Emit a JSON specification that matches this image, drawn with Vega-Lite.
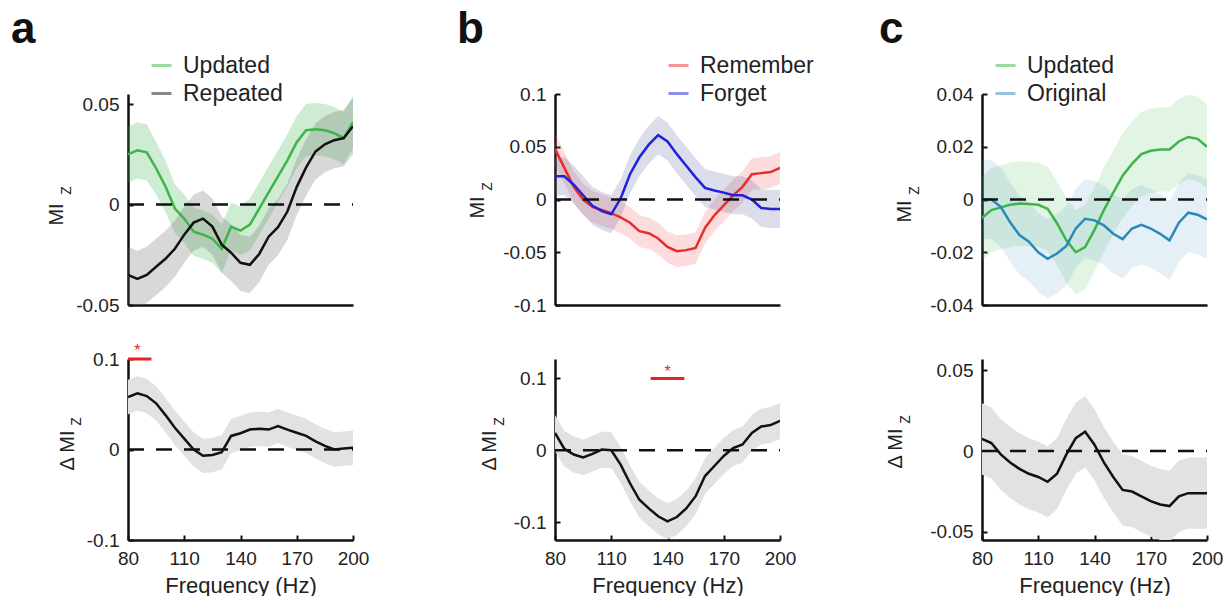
{
"$schema": "https://vega.github.io/schema/vega-lite/v6.json",
"background": "white",
"padding": {"left": 11, "top": 8, "right": 0, "bottom": 0},
"config": {
  "font": "Liberation Sans",
  "view": {"stroke": null},
  "axis": {"labelFont": "Liberation Sans", "titleFont": "Liberation Sans", "labelFontSize": 19, "titleFontSize": 20, "titleFontWeight": "normal", "labelColor": "#222", "titleColor": "#222", "domainColor": "#111", "domainWidth": 2.5, "tickColor": "#111", "tickWidth": 2, "tickSize": -5, "labelPadding": 14, "grid": false, "labelFlush": false, "labelOverlap": false},
  "axisX": {"titleFontSize": 22, "titlePadding": 7},
  "legend": {"padding": 0, "labelFont": "Liberation Sans", "labelFontSize": 23, "labelColor": "#222", "symbolType": "stroke", "symbolStrokeWidth": 3, "symbolSize": 400, "symbolOpacity": 0.5, "rowPadding": 4, "labelOffset": 10},
  "title": {"font": "Liberation Sans", "fontSize": 44, "fontWeight": "bold", "color": "#111", "anchor": "start", "frame": "group", "baseline": "alphabetic", "offset": 2}
},
"datasets": {
  "aTop": [
    {"f":80,"cond":"Updated","v":0.025,"lo":0.011,"hi":0.039},{"f":85,"cond":"Updated","v":0.027,"lo":0.013,"hi":0.041},{"f":90,"cond":"Updated","v":0.026,"lo":0.012,"hi":0.040},{"f":95,"cond":"Updated","v":0.018,"lo":0.005,"hi":0.031},{"f":100,"cond":"Updated","v":0.009,"lo":-0.004,"hi":0.022},{"f":105,"cond":"Updated","v":-0.002,"lo":-0.014,"hi":0.010},{"f":110,"cond":"Updated","v":-0.007,"lo":-0.019,"hi":0.005},{"f":115,"cond":"Updated","v":-0.0135,"lo":-0.0255,"hi":-0.0015},{"f":120,"cond":"Updated","v":-0.015,"lo":-0.027,"hi":-0.003},{"f":125,"cond":"Updated","v":-0.017,"lo":-0.029,"hi":-0.005},{"f":130,"cond":"Updated","v":-0.022,"lo":-0.034,"hi":-0.010},{"f":135,"cond":"Updated","v":-0.011,"lo":-0.023,"hi":0.001},{"f":140,"cond":"Updated","v":-0.013,"lo":-0.025,"hi":-0.001},{"f":145,"cond":"Updated","v":-0.010,"lo":-0.023,"hi":0.003},{"f":150,"cond":"Updated","v":-0.002,"lo":-0.015,"hi":0.011},{"f":155,"cond":"Updated","v":0.006,"lo":-0.007,"hi":0.019},{"f":160,"cond":"Updated","v":0.014,"lo":0.001,"hi":0.027},{"f":165,"cond":"Updated","v":0.022,"lo":0.009,"hi":0.035},{"f":170,"cond":"Updated","v":0.031,"lo":0.018,"hi":0.044},{"f":175,"cond":"Updated","v":0.037,"lo":0.024,"hi":0.050},{"f":180,"cond":"Updated","v":0.0375,"lo":0.0245,"hi":0.0505},{"f":185,"cond":"Updated","v":0.037,"lo":0.024,"hi":0.050},{"f":190,"cond":"Updated","v":0.0355,"lo":0.0225,"hi":0.0485},{"f":195,"cond":"Updated","v":0.033,"lo":0.020,"hi":0.046},{"f":200,"cond":"Updated","v":0.041,"lo":0.028,"hi":0.054},
    {"f":80,"cond":"Repeated","v":-0.035,"lo":-0.049,"hi":-0.021},{"f":85,"cond":"Repeated","v":-0.037,"lo":-0.051,"hi":-0.023},{"f":90,"cond":"Repeated","v":-0.035,"lo":-0.049,"hi":-0.021},{"f":95,"cond":"Repeated","v":-0.031,"lo":-0.045,"hi":-0.017},{"f":100,"cond":"Repeated","v":-0.027,"lo":-0.041,"hi":-0.013},{"f":105,"cond":"Repeated","v":-0.022,"lo":-0.036,"hi":-0.008},{"f":110,"cond":"Repeated","v":-0.015,"lo":-0.029,"hi":-0.001},{"f":115,"cond":"Repeated","v":-0.009,"lo":-0.023,"hi":0.005},{"f":120,"cond":"Repeated","v":-0.007,"lo":-0.021,"hi":0.007},{"f":125,"cond":"Repeated","v":-0.011,"lo":-0.025,"hi":0.003},{"f":130,"cond":"Repeated","v":-0.020,"lo":-0.034,"hi":-0.006},{"f":135,"cond":"Repeated","v":-0.024,"lo":-0.038,"hi":-0.010},{"f":140,"cond":"Repeated","v":-0.029,"lo":-0.043,"hi":-0.015},{"f":145,"cond":"Repeated","v":-0.030,"lo":-0.044,"hi":-0.016},{"f":150,"cond":"Repeated","v":-0.0246,"lo":-0.0386,"hi":-0.0106},{"f":155,"cond":"Repeated","v":-0.016,"lo":-0.030,"hi":-0.002},{"f":160,"cond":"Repeated","v":-0.0113,"lo":-0.0253,"hi":0.0027},{"f":165,"cond":"Repeated","v":-0.0035,"lo":-0.0175,"hi":0.0105},{"f":170,"cond":"Repeated","v":0.0088,"lo":-0.0052,"hi":0.0228},{"f":175,"cond":"Repeated","v":0.0185,"lo":0.0045,"hi":0.0325},{"f":180,"cond":"Repeated","v":0.0264,"lo":0.0124,"hi":0.0404},{"f":185,"cond":"Repeated","v":0.030,"lo":0.016,"hi":0.044},{"f":190,"cond":"Repeated","v":0.032,"lo":0.018,"hi":0.046},{"f":195,"cond":"Repeated","v":0.033,"lo":0.019,"hi":0.047},{"f":200,"cond":"Repeated","v":0.039,"lo":0.025,"hi":0.053}
  ],
  "aBot": [
    {"f":80,"v":0.058,"lo":0.039,"hi":0.077},{"f":85,"v":0.062,"lo":0.043,"hi":0.081},{"f":90,"v":0.059,"lo":0.040,"hi":0.078},{"f":95,"v":0.051,"lo":0.032,"hi":0.070},{"f":100,"v":0.038,"lo":0.019,"hi":0.057},{"f":105,"v":0.024,"lo":0.005,"hi":0.043},{"f":110,"v":0.012,"lo":-0.007,"hi":0.031},{"f":115,"v":0.000,"lo":-0.019,"hi":0.019},{"f":120,"v":-0.007,"lo":-0.026,"hi":0.012},{"f":125,"v":-0.006,"lo":-0.025,"hi":0.013},{"f":130,"v":-0.003,"lo":-0.022,"hi":0.016},{"f":135,"v":0.015,"lo":-0.004,"hi":0.034},{"f":140,"v":0.018,"lo":-0.001,"hi":0.037},{"f":145,"v":0.022,"lo":0.003,"hi":0.041},{"f":150,"v":0.023,"lo":0.004,"hi":0.042},{"f":155,"v":0.022,"lo":0.003,"hi":0.041},{"f":160,"v":0.026,"lo":0.007,"hi":0.045},{"f":165,"v":0.022,"lo":0.003,"hi":0.041},{"f":170,"v":0.0185,"lo":-0.0005,"hi":0.0375},{"f":175,"v":0.015,"lo":-0.004,"hi":0.034},{"f":180,"v":0.009,"lo":-0.010,"hi":0.028},{"f":185,"v":0.004,"lo":-0.015,"hi":0.023},{"f":190,"v":0.000,"lo":-0.019,"hi":0.019},{"f":195,"v":0.001,"lo":-0.018,"hi":0.020},{"f":200,"v":0.002,"lo":-0.017,"hi":0.021}
  ],
  "aSig": [{"f1":80,"f2":92.5,"y":0.1,"fs":85}],
  "bTop": [
    {"f":80,"cond":"Remember","v":0.048,"lo":0.033,"hi":0.063},{"f":85,"cond":"Remember","v":0.030,"lo":0.015,"hi":0.045},{"f":90,"cond":"Remember","v":0.012,"lo":-0.003,"hi":0.027},{"f":95,"cond":"Remember","v":0.000,"lo":-0.015,"hi":0.015},{"f":100,"cond":"Remember","v":-0.007,"lo":-0.022,"hi":0.008},{"f":105,"cond":"Remember","v":-0.010,"lo":-0.025,"hi":0.005},{"f":110,"cond":"Remember","v":-0.013,"lo":-0.028,"hi":0.002},{"f":115,"cond":"Remember","v":-0.017,"lo":-0.032,"hi":-0.002},{"f":120,"cond":"Remember","v":-0.022,"lo":-0.037,"hi":-0.007},{"f":125,"cond":"Remember","v":-0.030,"lo":-0.045,"hi":-0.015},{"f":130,"cond":"Remember","v":-0.032,"lo":-0.047,"hi":-0.017},{"f":135,"cond":"Remember","v":-0.037,"lo":-0.052,"hi":-0.022},{"f":140,"cond":"Remember","v":-0.045,"lo":-0.060,"hi":-0.030},{"f":145,"cond":"Remember","v":-0.049,"lo":-0.064,"hi":-0.034},{"f":150,"cond":"Remember","v":-0.048,"lo":-0.063,"hi":-0.033},{"f":155,"cond":"Remember","v":-0.046,"lo":-0.061,"hi":-0.031},{"f":160,"cond":"Remember","v":-0.027,"lo":-0.042,"hi":-0.012},{"f":165,"cond":"Remember","v":-0.015,"lo":-0.030,"hi":0.000},{"f":170,"cond":"Remember","v":-0.0055,"lo":-0.0205,"hi":0.0095},{"f":175,"cond":"Remember","v":0.004,"lo":-0.011,"hi":0.019},{"f":180,"cond":"Remember","v":0.012,"lo":-0.003,"hi":0.027},{"f":185,"cond":"Remember","v":0.024,"lo":0.009,"hi":0.039},{"f":190,"cond":"Remember","v":0.025,"lo":0.010,"hi":0.040},{"f":195,"cond":"Remember","v":0.026,"lo":0.011,"hi":0.041},{"f":200,"cond":"Remember","v":0.030,"lo":0.015,"hi":0.045},
    {"f":80,"cond":"Forget","v":0.022,"lo":0.004,"hi":0.040},{"f":85,"cond":"Forget","v":0.022,"lo":0.004,"hi":0.040},{"f":90,"cond":"Forget","v":0.014,"lo":-0.004,"hi":0.032},{"f":95,"cond":"Forget","v":0.004,"lo":-0.014,"hi":0.022},{"f":100,"cond":"Forget","v":-0.006,"lo":-0.024,"hi":0.012},{"f":105,"cond":"Forget","v":-0.011,"lo":-0.029,"hi":0.007},{"f":110,"cond":"Forget","v":-0.014,"lo":-0.032,"hi":0.004},{"f":115,"cond":"Forget","v":0.001,"lo":-0.017,"hi":0.019},{"f":120,"cond":"Forget","v":0.024,"lo":0.006,"hi":0.042},{"f":125,"cond":"Forget","v":0.040,"lo":0.022,"hi":0.058},{"f":130,"cond":"Forget","v":0.052,"lo":0.034,"hi":0.070},{"f":135,"cond":"Forget","v":0.061,"lo":0.043,"hi":0.079},{"f":140,"cond":"Forget","v":0.055,"lo":0.037,"hi":0.073},{"f":145,"cond":"Forget","v":0.043,"lo":0.025,"hi":0.061},{"f":150,"cond":"Forget","v":0.032,"lo":0.014,"hi":0.050},{"f":155,"cond":"Forget","v":0.021,"lo":0.003,"hi":0.039},{"f":160,"cond":"Forget","v":0.011,"lo":-0.007,"hi":0.029},{"f":165,"cond":"Forget","v":0.0085,"lo":-0.0095,"hi":0.0265},{"f":170,"cond":"Forget","v":0.0065,"lo":-0.0115,"hi":0.0245},{"f":175,"cond":"Forget","v":0.004,"lo":-0.014,"hi":0.022},{"f":180,"cond":"Forget","v":0.004,"lo":-0.014,"hi":0.022},{"f":185,"cond":"Forget","v":0.000,"lo":-0.018,"hi":0.018},{"f":190,"cond":"Forget","v":-0.008,"lo":-0.026,"hi":0.010},{"f":195,"cond":"Forget","v":-0.009,"lo":-0.027,"hi":0.009},{"f":200,"cond":"Forget","v":-0.009,"lo":-0.027,"hi":0.009}
  ],
  "bBot": [
    {"f":80,"v":0.024,"lo":-0.001,"hi":0.049},{"f":85,"v":0.002,"lo":-0.023,"hi":0.027},{"f":90,"v":-0.006,"lo":-0.031,"hi":0.019},{"f":95,"v":-0.010,"lo":-0.035,"hi":0.015},{"f":100,"v":-0.005,"lo":-0.030,"hi":0.020},{"f":105,"v":0.001,"lo":-0.024,"hi":0.026},{"f":110,"v":0.000,"lo":-0.025,"hi":0.025},{"f":115,"v":-0.020,"lo":-0.045,"hi":0.005},{"f":120,"v":-0.046,"lo":-0.071,"hi":-0.021},{"f":125,"v":-0.069,"lo":-0.094,"hi":-0.044},{"f":130,"v":-0.081,"lo":-0.106,"hi":-0.056},{"f":135,"v":-0.092,"lo":-0.117,"hi":-0.067},{"f":140,"v":-0.099,"lo":-0.124,"hi":-0.074},{"f":145,"v":-0.093,"lo":-0.118,"hi":-0.068},{"f":150,"v":-0.081,"lo":-0.106,"hi":-0.056},{"f":155,"v":-0.064,"lo":-0.089,"hi":-0.039},{"f":160,"v":-0.036,"lo":-0.061,"hi":-0.011},{"f":165,"v":-0.022,"lo":-0.047,"hi":0.003},{"f":170,"v":-0.008,"lo":-0.033,"hi":0.017},{"f":175,"v":0.003,"lo":-0.022,"hi":0.028},{"f":180,"v":0.008,"lo":-0.017,"hi":0.033},{"f":185,"v":0.024,"lo":-0.001,"hi":0.049},{"f":190,"v":0.033,"lo":0.008,"hi":0.058},{"f":195,"v":0.035,"lo":0.010,"hi":0.060},{"f":200,"v":0.041,"lo":0.016,"hi":0.066}
  ],
  "bSig": [{"f1":131,"f2":149,"y":0.1,"fs":140}],
  "cTop": [
    {"f":80,"cond":"Updated","v":-0.007,"lo":-0.023,"hi":0.009},{"f":85,"cond":"Updated","v":-0.004,"lo":-0.020,"hi":0.012},{"f":90,"cond":"Updated","v":-0.003,"lo":-0.019,"hi":0.013},{"f":95,"cond":"Updated","v":-0.002,"lo":-0.018,"hi":0.014},{"f":100,"cond":"Updated","v":-0.0015,"lo":-0.0175,"hi":0.0145},{"f":105,"cond":"Updated","v":-0.0017,"lo":-0.0177,"hi":0.0143},{"f":110,"cond":"Updated","v":-0.002,"lo":-0.018,"hi":0.014},{"f":115,"cond":"Updated","v":-0.0035,"lo":-0.0195,"hi":0.0125},{"f":120,"cond":"Updated","v":-0.009,"lo":-0.025,"hi":0.007},{"f":125,"cond":"Updated","v":-0.0155,"lo":-0.0315,"hi":0.0005},{"f":130,"cond":"Updated","v":-0.020,"lo":-0.036,"hi":-0.004},{"f":135,"cond":"Updated","v":-0.018,"lo":-0.034,"hi":-0.002},{"f":140,"cond":"Updated","v":-0.0115,"lo":-0.0275,"hi":0.0045},{"f":145,"cond":"Updated","v":-0.004,"lo":-0.020,"hi":0.012},{"f":150,"cond":"Updated","v":0.0026,"lo":-0.0134,"hi":0.0186},{"f":155,"cond":"Updated","v":0.009,"lo":-0.007,"hi":0.025},{"f":160,"cond":"Updated","v":0.0135,"lo":-0.0025,"hi":0.0295},{"f":165,"cond":"Updated","v":0.0172,"lo":0.0012,"hi":0.0332},{"f":170,"cond":"Updated","v":0.0185,"lo":0.0025,"hi":0.0345},{"f":175,"cond":"Updated","v":0.019,"lo":0.003,"hi":0.035},{"f":180,"cond":"Updated","v":0.019,"lo":0.003,"hi":0.035},{"f":185,"cond":"Updated","v":0.022,"lo":0.006,"hi":0.038},{"f":190,"cond":"Updated","v":0.0237,"lo":0.0077,"hi":0.0397},{"f":195,"cond":"Updated","v":0.023,"lo":0.007,"hi":0.039},{"f":200,"cond":"Updated","v":0.020,"lo":0.004,"hi":0.036},
    {"f":80,"cond":"Original","v":0.000,"lo":-0.015,"hi":0.015},{"f":85,"cond":"Original","v":0.000,"lo":-0.015,"hi":0.015},{"f":90,"cond":"Original","v":-0.0028,"lo":-0.0178,"hi":0.0122},{"f":95,"cond":"Original","v":-0.0086,"lo":-0.0236,"hi":0.0064},{"f":100,"cond":"Original","v":-0.0135,"lo":-0.0285,"hi":0.0015},{"f":105,"cond":"Original","v":-0.016,"lo":-0.031,"hi":-0.001},{"f":110,"cond":"Original","v":-0.020,"lo":-0.035,"hi":-0.005},{"f":115,"cond":"Original","v":-0.0225,"lo":-0.0375,"hi":-0.0075},{"f":120,"cond":"Original","v":-0.0205,"lo":-0.0355,"hi":-0.0055},{"f":125,"cond":"Original","v":-0.0176,"lo":-0.0326,"hi":-0.0026},{"f":130,"cond":"Original","v":-0.011,"lo":-0.026,"hi":0.004},{"f":135,"cond":"Original","v":-0.0073,"lo":-0.0223,"hi":0.0077},{"f":140,"cond":"Original","v":-0.0079,"lo":-0.0229,"hi":0.0071},{"f":145,"cond":"Original","v":-0.0098,"lo":-0.0248,"hi":0.0052},{"f":150,"cond":"Original","v":-0.013,"lo":-0.028,"hi":0.002},{"f":155,"cond":"Original","v":-0.015,"lo":-0.030,"hi":0.000},{"f":160,"cond":"Original","v":-0.011,"lo":-0.026,"hi":0.004},{"f":165,"cond":"Original","v":-0.0096,"lo":-0.0246,"hi":0.0054},{"f":170,"cond":"Original","v":-0.011,"lo":-0.026,"hi":0.004},{"f":175,"cond":"Original","v":-0.013,"lo":-0.028,"hi":0.002},{"f":180,"cond":"Original","v":-0.0155,"lo":-0.0305,"hi":-0.0005},{"f":185,"cond":"Original","v":-0.0088,"lo":-0.0238,"hi":0.0062},{"f":190,"cond":"Original","v":-0.005,"lo":-0.020,"hi":0.010},{"f":195,"cond":"Original","v":-0.0058,"lo":-0.0208,"hi":0.0092},{"f":200,"cond":"Original","v":-0.0075,"lo":-0.0225,"hi":0.0075}
  ],
  "cBot": [
    {"f":80,"v":0.0076,"lo":-0.0144,"hi":0.0296},{"f":85,"v":0.005,"lo":-0.017,"hi":0.027},{"f":90,"v":-0.002,"lo":-0.024,"hi":0.020},{"f":95,"v":-0.007,"lo":-0.029,"hi":0.015},{"f":100,"v":-0.011,"lo":-0.033,"hi":0.011},{"f":105,"v":-0.014,"lo":-0.036,"hi":0.008},{"f":110,"v":-0.016,"lo":-0.038,"hi":0.006},{"f":115,"v":-0.019,"lo":-0.041,"hi":0.003},{"f":120,"v":-0.014,"lo":-0.036,"hi":0.008},{"f":125,"v":-0.002,"lo":-0.024,"hi":0.020},{"f":130,"v":0.008,"lo":-0.014,"hi":0.030},{"f":135,"v":0.012,"lo":-0.010,"hi":0.034},{"f":140,"v":0.004,"lo":-0.018,"hi":0.026},{"f":145,"v":-0.007,"lo":-0.029,"hi":0.015},{"f":150,"v":-0.016,"lo":-0.038,"hi":0.006},{"f":155,"v":-0.024,"lo":-0.046,"hi":-0.002},{"f":160,"v":-0.025,"lo":-0.047,"hi":-0.003},{"f":165,"v":-0.028,"lo":-0.050,"hi":-0.006},{"f":170,"v":-0.031,"lo":-0.053,"hi":-0.009},{"f":175,"v":-0.033,"lo":-0.055,"hi":-0.011},{"f":180,"v":-0.034,"lo":-0.056,"hi":-0.012},{"f":185,"v":-0.028,"lo":-0.050,"hi":-0.006},{"f":190,"v":-0.026,"lo":-0.048,"hi":-0.004},{"f":195,"v":-0.026,"lo":-0.048,"hi":-0.004},{"f":200,"v":-0.026,"lo":-0.048,"hi":-0.004}
  ]
},
"columns": 3,
"spacing": {"row": 54, "column": 202},
"bounds": "flush",
"resolve": {"scale": {"x": "independent", "y": "independent", "stroke": "independent", "fill": "independent"}, "axis": {"x": "independent", "y": "independent"}, "legend": {"stroke": "independent", "fill": "independent"}},
"concat": [
  {
    "title": {"text": "a", "dx": -117},
    "width": 225, "height": 211,
    "data": {"name": "aTop"},
    "layer": [
      {"mark": {"type": "area", "clip": true},
       "encoding": {
         "x": {"field": "f", "type": "quantitative", "scale": {"domain": [80, 200], "nice": false}, "axis": {"labels": false, "ticks": false, "title": null}},
         "y": {"field": "lo", "type": "quantitative", "stack": null, "scale": {"domain": [-0.05, 0.055], "nice": false, "zero": false}, "axis": {"orient": "left", "values": [-0.05, 0, 0.05], "title": "MI", "titleX": -66, "titleY": 120, "titleAngle": -90, "titleAlign": "center", "titleBaseline": "alphabetic", "labelExpr": "replace(format(datum.value,'~g'),'−','-')"}},
         "y2": {"field": "hi"},
         "fill": {"field": "cond", "type": "nominal", "scale": {"domain": ["Repeated", "Updated"], "range": ["rgba(100,100,100,0.25)", "rgba(61,181,74,0.25)"]}, "legend": null}
       }},
      {"mark": {"type": "line", "strokeWidth": 2.5, "clip": true},
       "encoding": {
         "x": {"field": "f", "type": "quantitative"},
         "y": {"field": "v", "type": "quantitative", "axis": null},
         "stroke": {"field": "cond", "type": "nominal", "scale": {"domain": ["Updated", "Repeated"], "range": ["#3db54a", "#111111"]}, "legend": {"orient": "none", "title": null, "legendX": 22, "legendY": -40}}
       }},
      {"data": {"values": [{}]}, "mark": {"type": "rule", "strokeDash": [16, 12], "strokeWidth": 2.5, "color": "#111"},
       "encoding": {"x": {"datum": 80, "type": "quantitative"}, "x2": {"datum": 200}, "y": {"datum": 0, "type": "quantitative", "axis": null}}},
      {"data": {"values": [{}]}, "mark": {"type": "point", "opacity": 0},
       "encoding": {"y": {"datum": 0, "type": "quantitative", "axis": {"orient": "left", "title": "Z", "titleFontSize": 14, "titleX": -58, "titleY": 96, "titleAngle": -90, "titleAlign": "center", "titleBaseline": "alphabetic", "domain": false, "ticks": false, "labels": false}}}}
    ],
    "resolve": {"axis": {"y": "independent"}}
  },
  {
    "title": {"text": "b", "dx": -98},
    "width": 225, "height": 211,
    "data": {"name": "bTop"},
    "layer": [
      {"mark": {"type": "area", "clip": true},
       "encoding": {
         "x": {"field": "f", "type": "quantitative", "scale": {"domain": [80, 200], "nice": false}, "axis": {"labels": false, "ticks": false, "title": null}},
         "y": {"field": "lo", "type": "quantitative", "stack": null, "scale": {"domain": [-0.1, 0.1], "nice": false, "zero": false}, "axis": {"orient": "left", "values": [-0.1, -0.05, 0, 0.05, 0.1], "title": "MI", "titleX": -72, "titleY": 113, "titleAngle": -90, "titleAlign": "center", "titleBaseline": "alphabetic", "labelExpr": "replace(format(datum.value,'~g'),'−','-')"}},
         "y2": {"field": "hi"},
         "fill": {"field": "cond", "type": "nominal", "scale": {"domain": ["Forget", "Remember"], "range": ["rgba(90,100,160,0.22)", "rgba(240,60,60,0.18)"]}, "legend": null}
       }},
      {"mark": {"type": "line", "strokeWidth": 2.5, "clip": true},
       "encoding": {
         "x": {"field": "f", "type": "quantitative"},
         "y": {"field": "v", "type": "quantitative", "axis": null},
         "stroke": {"field": "cond", "type": "nominal", "scale": {"domain": ["Remember", "Forget"], "range": ["#ee2b2b", "#2020dd"]}, "legend": {"orient": "none", "title": null, "legendX": 112, "legendY": -40}}
       }},
      {"data": {"values": [{}]}, "mark": {"type": "rule", "strokeDash": [16, 12], "strokeWidth": 2.5, "color": "#111"},
       "encoding": {"x": {"datum": 80, "type": "quantitative"}, "x2": {"datum": 200}, "y": {"datum": 0, "type": "quantitative", "axis": null}}},
      {"data": {"values": [{}]}, "mark": {"type": "point", "opacity": 0},
       "encoding": {"y": {"datum": 0, "type": "quantitative", "axis": {"orient": "left", "title": "Z", "titleFontSize": 14, "titleX": -64, "titleY": 92, "titleAngle": -90, "titleAlign": "center", "titleBaseline": "alphabetic", "domain": false, "ticks": false, "labels": false}}}}
    ],
    "resolve": {"axis": {"y": "independent"}}
  },
  {
    "title": {"text": "c", "dx": -103},
    "width": 225, "height": 211,
    "data": {"name": "cTop"},
    "layer": [
      {"mark": {"type": "area", "clip": true},
       "encoding": {
         "x": {"field": "f", "type": "quantitative", "scale": {"domain": [80, 200], "nice": false}, "axis": {"labels": false, "ticks": false, "title": null}},
         "y": {"field": "lo", "type": "quantitative", "stack": null, "scale": {"domain": [-0.04, 0.04], "nice": false, "zero": false}, "axis": {"orient": "left", "values": [-0.04, -0.02, 0, 0.02, 0.04], "title": "MI", "titleX": -72, "titleY": 117, "titleAngle": -90, "titleAlign": "center", "titleBaseline": "alphabetic", "labelExpr": "replace(format(datum.value,'~g'),'−','-')"}},
         "y2": {"field": "hi"},
         "fill": {"field": "cond", "type": "nominal", "scale": {"domain": ["Original", "Updated"], "range": ["rgba(43,137,184,0.13)", "rgba(61,181,74,0.15)"]}, "legend": null}
       }},
      {"mark": {"type": "line", "strokeWidth": 2.5, "clip": true},
       "encoding": {
         "x": {"field": "f", "type": "quantitative"},
         "y": {"field": "v", "type": "quantitative", "axis": null},
         "stroke": {"field": "cond", "type": "nominal", "scale": {"domain": ["Updated", "Original"], "range": ["#3db54a", "#2b89b8"]}, "legend": {"orient": "none", "title": null, "legendX": 12, "legendY": -40}}
       }},
      {"data": {"values": [{}]}, "mark": {"type": "rule", "strokeDash": [16, 12], "strokeWidth": 2.5, "color": "#111"},
       "encoding": {"x": {"datum": 80, "type": "quantitative"}, "x2": {"datum": 200}, "y": {"datum": 0, "type": "quantitative", "axis": null}}},
      {"data": {"values": [{}]}, "mark": {"type": "point", "opacity": 0},
       "encoding": {"y": {"datum": 0, "type": "quantitative", "axis": {"orient": "left", "title": "Z", "titleFontSize": 14, "titleX": -64, "titleY": 96, "titleAngle": -90, "titleAlign": "center", "titleBaseline": "alphabetic", "domain": false, "ticks": false, "labels": false}}}}
    ],
    "resolve": {"axis": {"y": "independent"}}
  },
  {
    "width": 225, "height": 181,
    "layer": [
      {"data": {"name": "aBot"}, "mark": {"type": "area", "color": "#e2e2e2", "clip": true},
       "encoding": {
         "x": {"field": "f", "type": "quantitative", "scale": {"domain": [80, 200], "nice": false}, "axis": {"values": [80, 110, 140, 170, 200], "title": "Frequency (Hz)"}},
         "y": {"field": "lo", "type": "quantitative", "stack": null, "scale": {"domain": [-0.1, 0.1], "nice": false, "zero": false}, "axis": {"orient": "left", "values": [-0.1, 0, 0.1], "title": "Δ MI", "titleX": -55, "titleY": 91, "titleAngle": -90, "titleAlign": "center", "titleBaseline": "alphabetic", "labelExpr": "replace(format(datum.value,'~g'),'−','-')"}},
         "y2": {"field": "hi"}
       }},
      {"data": {"name": "aBot"}, "mark": {"type": "line", "strokeWidth": 2.5, "color": "#111", "clip": true},
       "encoding": {"x": {"field": "f", "type": "quantitative"}, "y": {"field": "v", "type": "quantitative", "axis": null}}},
      {"data": {"values": [{}]}, "mark": {"type": "rule", "strokeDash": [16, 12], "strokeWidth": 2.5, "color": "#111"},
       "encoding": {"x": {"datum": 80, "type": "quantitative"}, "x2": {"datum": 200}, "y": {"datum": 0, "type": "quantitative", "axis": null}}},
      {"data": {"name": "aSig"}, "mark": {"type": "rule", "strokeWidth": 3, "color": "#e82323"},
       "encoding": {"x": {"field": "f1", "type": "quantitative"}, "x2": {"field": "f2"}, "y": {"field": "y", "type": "quantitative", "axis": null}}},
      {"data": {"name": "aSig"}, "mark": {"type": "text", "text": "*", "color": "#e82323", "fontSize": 16, "baseline": "alphabetic", "dy": -3},
       "encoding": {"x": {"field": "fs", "type": "quantitative"}, "y": {"field": "y", "type": "quantitative", "axis": null}}},
      {"data": {"values": [{}]}, "mark": {"type": "point", "opacity": 0},
       "encoding": {"y": {"datum": 0, "type": "quantitative", "axis": {"orient": "left", "title": "Z", "titleFontSize": 14, "titleX": -48, "titleY": 62, "titleAngle": -90, "titleAlign": "center", "titleBaseline": "alphabetic", "domain": false, "ticks": false, "labels": false}}}}
    ],
    "resolve": {"axis": {"y": "independent"}}
  },
  {
    "width": 225, "height": 181,
    "layer": [
      {"data": {"name": "bBot"}, "mark": {"type": "area", "color": "#e2e2e2", "clip": true},
       "encoding": {
         "x": {"field": "f", "type": "quantitative", "scale": {"domain": [80, 200], "nice": false}, "axis": {"values": [80, 110, 140, 170, 200], "title": "Frequency (Hz)"}},
         "y": {"field": "lo", "type": "quantitative", "stack": null, "scale": {"domain": [-0.125, 0.127], "nice": false, "zero": false}, "axis": {"orient": "left", "values": [-0.1, 0, 0.1], "title": "Δ MI", "titleX": -60, "titleY": 91, "titleAngle": -90, "titleAlign": "center", "titleBaseline": "alphabetic", "labelExpr": "replace(format(datum.value,'~g'),'−','-')"}},
         "y2": {"field": "hi"}
       }},
      {"data": {"name": "bBot"}, "mark": {"type": "line", "strokeWidth": 2.5, "color": "#111", "clip": true},
       "encoding": {"x": {"field": "f", "type": "quantitative"}, "y": {"field": "v", "type": "quantitative", "axis": null}}},
      {"data": {"values": [{}]}, "mark": {"type": "rule", "strokeDash": [16, 12], "strokeWidth": 2.5, "color": "#111"},
       "encoding": {"x": {"datum": 80, "type": "quantitative"}, "x2": {"datum": 200}, "y": {"datum": 0, "type": "quantitative", "axis": null}}},
      {"data": {"name": "bSig"}, "mark": {"type": "rule", "strokeWidth": 3, "color": "#e82323"},
       "encoding": {"x": {"field": "f1", "type": "quantitative"}, "x2": {"field": "f2"}, "y": {"field": "y", "type": "quantitative", "axis": null}}},
      {"data": {"name": "bSig"}, "mark": {"type": "text", "text": "*", "color": "#e82323", "fontSize": 16, "baseline": "alphabetic", "dy": -1},
       "encoding": {"x": {"field": "fs", "type": "quantitative"}, "y": {"field": "y", "type": "quantitative", "axis": null}}},
      {"data": {"values": [{}]}, "mark": {"type": "point", "opacity": 0},
       "encoding": {"y": {"datum": 0, "type": "quantitative", "axis": {"orient": "left", "title": "Z", "titleFontSize": 14, "titleX": -52, "titleY": 62, "titleAngle": -90, "titleAlign": "center", "titleBaseline": "alphabetic", "domain": false, "ticks": false, "labels": false}}}}
    ],
    "resolve": {"axis": {"y": "independent"}}
  },
  {
    "width": 225, "height": 181,
    "layer": [
      {"data": {"name": "cBot"}, "mark": {"type": "area", "color": "#e2e2e2", "clip": true},
       "encoding": {
         "x": {"field": "f", "type": "quantitative", "scale": {"domain": [80, 200], "nice": false}, "axis": {"values": [80, 110, 140, 170, 200], "title": "Frequency (Hz)"}},
         "y": {"field": "lo", "type": "quantitative", "stack": null, "scale": {"domain": [-0.055, 0.057], "nice": false, "zero": false}, "axis": {"orient": "left", "values": [-0.05, 0, 0.05], "title": "Δ MI", "titleX": -81, "titleY": 89, "titleAngle": -90, "titleAlign": "center", "titleBaseline": "alphabetic", "labelExpr": "replace(format(datum.value,'~g'),'−','-')"}},
         "y2": {"field": "hi"}
       }},
      {"data": {"name": "cBot"}, "mark": {"type": "line", "strokeWidth": 2.5, "color": "#111", "clip": true},
       "encoding": {"x": {"field": "f", "type": "quantitative"}, "y": {"field": "v", "type": "quantitative", "axis": null}}},
      {"data": {"values": [{}]}, "mark": {"type": "rule", "strokeDash": [16, 12], "strokeWidth": 2.5, "color": "#111"},
       "encoding": {"x": {"datum": 80, "type": "quantitative"}, "x2": {"datum": 200}, "y": {"datum": 0, "type": "quantitative", "axis": null}}},
      {"data": {"values": [{}]}, "mark": {"type": "point", "opacity": 0},
       "encoding": {"y": {"datum": 0, "type": "quantitative", "axis": {"orient": "left", "title": "Z", "titleFontSize": 14, "titleX": -73, "titleY": 60, "titleAngle": -90, "titleAlign": "center", "titleBaseline": "alphabetic", "domain": false, "ticks": false, "labels": false}}}}
    ],
    "resolve": {"axis": {"y": "independent"}}
  }
]
}
